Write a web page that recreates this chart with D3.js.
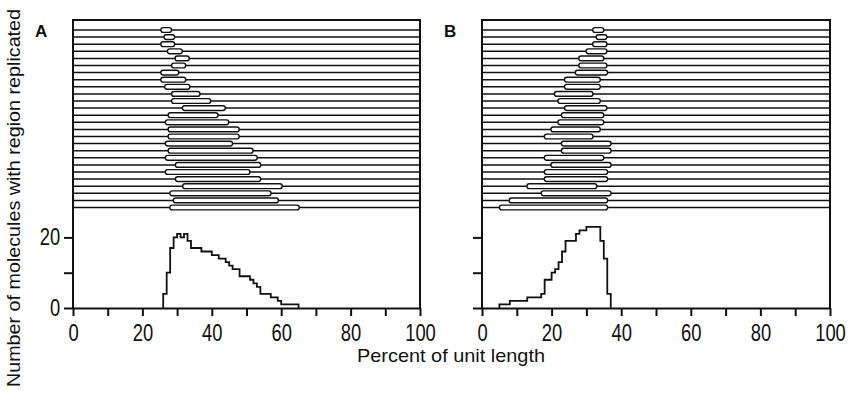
<!DOCTYPE html>
<html>
<head>
<meta charset="utf-8">
<script src="https://cdn.jsdelivr.net/npm/d3@7"></script>
<style>
  body { margin: 0; background: #fff; }
  svg text { font-family: "Liberation Sans", Arial, sans-serif; fill: #111; }
</style>
</head>
<body>
<div id="chart-area"></div>
<script>
// molecules, top to bottom: start / end of replicated region (% of unit length)
const bubbleStartA = [25.3, 26.2, 25.3, 27.2, 29.4, 28.4, 25.3, 25.3, 26.4, 28.4, 28.4, 31.5, 27.4,
  26.6, 27.4, 27.4, 26.6, 27.4, 26.6, 29.5, 26.6, 29.5, 31.6, 27.9, 28.9, 27.9]
const bubbleEndA = [28.4, 29.3, 29.3, 31.5, 33.5, 32.5, 30.5, 32.5, 33.7, 36.6, 39.7, 43.9, 41.8,
  44.9, 47.9, 47.9, 46.0, 51.9, 53.1, 54.1, 51.0, 54.1, 60.3, 57.1, 59.2, 65.2]
const bubbleStartB = [31.8, 32.8, 31.8, 29.9, 27.8, 27.8, 26.8, 23.7, 23.7, 20.8, 21.8, 23.7, 22.8,
  21.8, 19.8, 17.9, 22.8, 22.8, 17.9, 19.8, 17.9, 17.9, 12.9, 17.0, 7.8, 5.0]
const bubbleEndB = [35.0, 35.9, 35.9, 35.9, 35.0, 35.9, 36.1, 34.0, 34.0, 31.9, 34.0, 35.9, 35.0,
  35.0, 34.0, 31.9, 37.1, 37.1, 35.0, 37.1, 36.1, 36.1, 33.0, 37.1, 36.1, 36.1]

// histograms: left edge of each 1% bin and its count
const histBinsA = [26, 27, 28, 29, 30, 31, 32, 33, 34, 35, 36, 37, 38, 39, 40, 41, 42, 43, 44, 45,
  46, 47, 48, 49, 50, 51, 52, 53, 54, 55, 56, 57, 58, 59, 60, 61, 62, 63, 64]
const histCountsA = [4, 10, 17, 20, 21, 20, 21, 19, 17, 17, 17, 16, 16, 16, 15, 15, 14, 14, 13, 12,
  11, 11, 9, 9, 9, 8, 7, 6, 4, 4, 4, 3, 3, 2, 1, 1, 1, 1, 1]
const histBinsB = [5, 6, 7, 8, 9, 10, 11, 12, 13, 14, 15, 16, 17, 18, 19, 20, 21, 22, 23, 24, 25,
  26, 27, 28, 29, 30, 31, 32, 33, 34, 35, 36]
const histCountsB = [1, 1, 1, 2, 2, 2, 2, 2, 3, 3, 3, 3, 4, 8, 8, 10, 11, 13, 16, 19, 19,
  19, 21, 22, 22, 23, 23, 23, 23, 19, 14, 4]

const xTicks = [0, 10, 20, 30, 40, 50, 60, 70, 80, 90, 100]
const xTickLabels = [0, 20, 40, 60, 80, 100]
const yTicks = [0, 10, 20]
const yTickLabels = [0, 20]

const width = 852
const height = 397
const frameTop = 20
const baseY = 308

const svg = d3.select("#chart-area").append("svg")
  .attr("width", width)
  .attr("height", height)

const yCount = d3.scaleLinear()
  .domain([0, 20])
  .range([baseY, 237.4])

const rowY = d3.scalePoint()
  .domain(d3.range(bubbleStartA.length))
  .range([30, 207.5])

function drawPanel(left, right, starts, ends, bins, counts, letter, showYLabels) {
  const x = d3.scaleLinear().domain([0, 100]).range([left, right])
  const g = svg.append("g")

  // molecules
  const rows = g.selectAll("g.mol")
    .data(starts.map((s, i) => ({ s, e: ends[i], i })))
    .enter().append("g")
    .attr("class", "mol")

  rows.append("line")
    .attr("x1", x(0)).attr("x2", x(100))
    .attr("y1", d => rowY(d.i)).attr("y2", d => rowY(d.i))
    .attr("stroke", "#111")
    .attr("stroke-width", 1.5)

  rows.append("rect")
    .attr("x", d => x(d.s))
    .attr("width", d => x(d.e) - x(d.s))
    .attr("y", d => rowY(d.i) - 2.4)
    .attr("height", 4.8)
    .attr("rx", 2.4)
    .attr("fill", "#fff")
    .attr("stroke", "#111")
    .attr("stroke-width", 1.4)

  // histogram
  const pts = [[bins[0], 0]]
  bins.forEach((b, i) => pts.push([b, counts[i]]))
  pts.push([bins[bins.length - 1] + 1, 0])
  const line = d3.line()
    .x(d => x(d[0]))
    .y(d => yCount(d[1]))
    .curve(d3.curveStepAfter)
  g.append("path")
    .attr("d", line(pts))
    .attr("fill", "none")
    .attr("stroke", "#111")
    .attr("stroke-width", 1.8)

  // frame
  g.append("path")
    .attr("d", `M${x(0)},${baseY}V${frameTop}H${x(100)}V${baseY}`)
    .attr("fill", "none")
    .attr("stroke", "#111")
    .attr("stroke-width", 2)

  // x axis
  const xAxis = g.append("g")
    .attr("transform", `translate(0, ${baseY})`)
    .call(d3.axisBottom(x)
      .tickValues(xTicks)
      .tickSize(8)
      .tickSizeOuter(0)
      .tickPadding(9)
      .tickFormat(d => xTickLabels.includes(d) ? d : ""))
  xAxis.select(".domain").attr("stroke", "#111").attr("stroke-width", 2)
  xAxis.selectAll(".tick line").attr("stroke", "#111").attr("stroke-width", 2)
  xAxis.selectAll(".tick text")
    .filter(d => !xTickLabels.includes(d)).remove()
  xAxis.selectAll(".tick text")
    .attr("font-size", "23px")
    .attr("transform", "scale(0.8, 1)")

  // y axis
  const yAxis = g.append("g")
    .attr("transform", `translate(${x(0)}, 0)`)
    .call(d3.axisLeft(yCount)
      .tickValues(yTicks)
      .tickSize(9)
      .tickSizeOuter(0)
      .tickPadding(7)
      .tickFormat(d => yTickLabels.includes(d) ? d : ""))
  yAxis.select(".domain").remove()
  yAxis.selectAll(".tick line").attr("stroke", "#111").attr("stroke-width", 2)
  yAxis.selectAll(".tick text")
    .filter(d => !showYLabels || !yTickLabels.includes(d)).remove()
  yAxis.selectAll(".tick text")
    .attr("font-size", "23px")
    .attr("transform", "scale(0.8, 1)")

  svg.append("text")
    .attr("x", left - 38)
    .attr("y", 37)
    .attr("font-size", "17px")
    .attr("font-weight", "bold")
    .text(letter)
}

drawPanel(73, 420, bubbleStartA, bubbleEndA, histBinsA, histCountsA, "A", true)
drawPanel(482, 830, bubbleStartB, bubbleEndB, histBinsB, histCountsB, "B", false)

// axis titles
svg.append("text")
  .attr("x", 451)
  .attr("y", 362)
  .attr("font-size", "19px")
  .attr("text-anchor", "middle")
  .attr("textLength", 188)
  .attr("lengthAdjust", "spacingAndGlyphs")
  .text("Percent of unit length")

svg.append("text")
  .attr("transform", "translate(20, 198) rotate(-90)")
  .attr("font-size", "19px")
  .attr("text-anchor", "middle")
  .attr("textLength", 378)
  .attr("lengthAdjust", "spacingAndGlyphs")
  .text("Number of molecules with region replicated")
</script>
</body>
</html>
